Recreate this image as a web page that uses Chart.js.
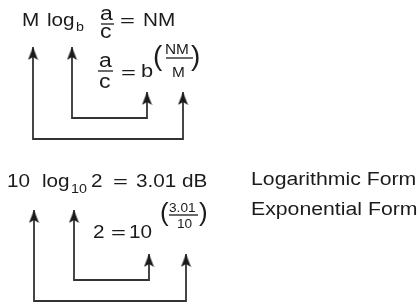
<!DOCTYPE html>
<html>
<head>
<meta charset="utf-8">
<script src="https://cdn.jsdelivr.net/npm/chart.js@4"></script>
<style>
  html, body { margin: 0; padding: 0; background: #ffffff; }
  #c { display: block; }
</style>
</head>
<body>
<canvas id="c" width="418" height="302"></canvas>
<script>
// ---- Diagram data (connector paths in diagram units: x right, y down) ----
const topOuterPath    = [{x:33, y:47}, {x:33, y:139}, {x:183, y:139}, {x:183, y:92}];
const topInnerPath    = [{x:72, y:47}, {x:72, y:118}, {x:147, y:118}, {x:147, y:92}];
const bottomOuterPath = [{x:34, y:210}, {x:34, y:301}, {x:186, y:301}, {x:186, y:254}];
const bottomInnerPath = [{x:74, y:210}, {x:74, y:280}, {x:149, y:280}, {x:149, y:254}];

// fraction bars
const fractionBars = [
  [{x:101, y:24}, {x:114, y:24}],
  [{x:98, y:71}, {x:113, y:71}],
  [{x:166, y:58}, {x:193, y:58}],
  [{x:169, y:215}, {x:198, y:215}]
];

// ---- Text strings ----
const formLabels = ["Logarithmic Form", "Exponential Form"];
const eq1 = ["M", "log", "b", "a", "c", "=", "NM"];
const eq2 = ["a", "c", "=", "b", "(", "NM", "M", ")"];
const eq3 = ["10", "log", "10", "2", "=", "3.01 dB"];
const eq4 = ["2", "=", "10", "(", "3.01", "10", ")"];

// ---- Text layout (x = left, y = baseline; size px; sx = horizontal stretch) ----
const textLayout = [
  {t: eq1[0], x: 22,  y: 26, s: 18},
  {t: eq1[1], x: 47,  y: 26, s: 18},
  {t: eq1[2], x: 76,  y: 31, s: 13, sx: 1.1},
  {t: eq1[3], x: 100, y: 20, s: 20},
  {t: eq1[4], x: 100, y: 38, s: 20},
  {t: eq1[5], x: 120, y: 26, s: 17, sx: 1.5},
  {t: eq1[6], x: 143, y: 26, s: 18},

  {t: eq2[0], x: 99,  y: 67, s: 20},
  {t: eq2[1], x: 99,  y: 88, s: 20},
  {t: eq2[2], x: 121, y: 78, s: 17, sx: 1.5},
  {t: eq2[3], x: 141, y: 77, s: 19},
  {t: eq2[4], x: 153, y: 65, s: 28, sx: 1},
  {t: eq2[5], x: 165, y: 54, s: 14, sx: 1.1},
  {t: eq2[6], x: 172, y: 77, s: 14, sx: 1.1},
  {t: eq2[7], x: 191, y: 65, s: 28, sx: 1},

  {t: eq3[0], x: 7,   y: 187, s: 18},
  {t: eq3[1], x: 42,  y: 187, s: 18},
  {t: eq3[2], x: 71,  y: 193, s: 13, sx: 1.1},
  {t: eq3[3], x: 91,  y: 187, s: 18},
  {t: eq3[4], x: 113, y: 187, s: 17, sx: 1.5},
  {t: eq3[5], x: 136, y: 187, s: 18},

  {t: eq4[0], x: 93,  y: 238, s: 18},
  {t: eq4[1], x: 111, y: 238, s: 17, sx: 1.5},
  {t: eq4[2], x: 129, y: 238, s: 18},
  {t: eq4[3], x: 160, y: 221, s: 26, sx: 1},
  {t: eq4[4], x: 169, y: 212, s: 13, sx: 1.05},
  {t: eq4[5], x: 177, y: 228, s: 13, sx: 1.05},
  {t: eq4[6], x: 199, y: 221, s: 26, sx: 1},

  {t: formLabels[0], x: 251, y: 185, s: 18, sx: 1.18},
  {t: formLabels[1], x: 251, y: 215, s: 18, sx: 1.18}
];

const INK = '#1c1a1b';
const LINE = '#333333';

// barbed arrowhead image, tip at the image centre, pointing up
function makeArrowHead() {
  const w = 11, h = 28;
  const cv = document.createElement('canvas');
  cv.width = w; cv.height = h;
  const g = cv.getContext('2d');
  const cx = w / 2, ty = h / 2;
  g.fillStyle = '#1a1a1a';
  g.beginPath();
  g.moveTo(cx, ty);
  g.lineTo(cx + 5, ty + 13);
  g.lineTo(cx, ty + 10);
  g.lineTo(cx - 5, ty + 13);
  g.closePath();
  g.fill();
  return cv;
}
const arrowHead = makeArrowHead();

function connector(path) {
  return {
    data: path,
    showLine: true,
    borderColor: LINE,
    borderWidth: 1.8,
    borderJoinStyle: 'miter',
    borderCapStyle: 'butt',
    tension: 0,
    pointStyle: arrowHead,
    pointRadius: (ctx) => (ctx.dataIndex === 0 || ctx.dataIndex === path.length - 1) ? 5 : 0,
    pointHoverRadius: 0,
    clip: false
  };
}
function bar(seg) {
  return {
    data: seg,
    showLine: true,
    borderColor: INK,
    borderWidth: 1.3,
    pointRadius: 0,
    tension: 0,
    clip: false
  };
}

const textPlugin = {
  id: 'eqText',
  afterDatasetsDraw(chart) {
    const {ctx, scales} = chart;
    ctx.save();
    ctx.fillStyle = INK;
    ctx.textBaseline = 'alphabetic';
    ctx.textAlign = 'left';
    textLayout.forEach(it => {
      const px = scales.x.getPixelForValue(it.x);
      const py = scales.y.getPixelForValue(it.y);
      ctx.save();
      ctx.translate(px, py);
      ctx.scale(it.sx || 1.15, 1);
      ctx.font = it.s + 'px "Liberation Sans", Arial, Helvetica, sans-serif';
      ctx.fillText(it.t, 0, 0);
      ctx.restore();
    });
    ctx.restore();
  }
};

new Chart(document.getElementById('c'), {
  type: 'scatter',
  data: {
    datasets: [
      connector(topOuterPath),
      connector(topInnerPath),
      connector(bottomOuterPath),
      connector(bottomInnerPath),
      ...fractionBars.map(bar)
    ]
  },
  options: {
    responsive: false,
    animation: false,
    devicePixelRatio: 1,
    layout: { padding: 0, autoPadding: false },
    scales: {
      x: { type: 'linear', min: 0, max: 418, display: false },
      y: { type: 'linear', min: 0, max: 302, reverse: true, display: false }
    },
    plugins: {
      legend: { display: false },
      tooltip: { enabled: false }
    },
    events: []
  },
  plugins: [textPlugin]
});
</script>
</body>
</html>
